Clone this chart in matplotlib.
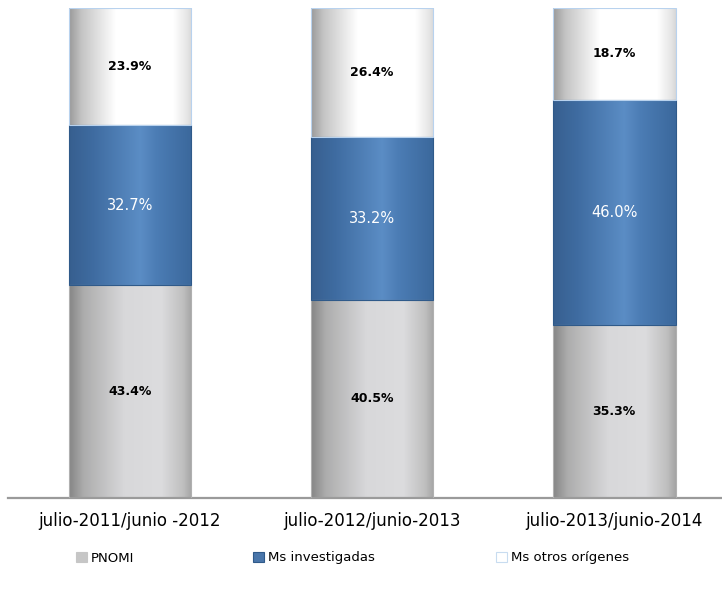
import numpy as np
import matplotlib
matplotlib.use("Agg")
import matplotlib.pyplot as plt
from matplotlib.colors import LinearSegmentedColormap
from matplotlib.patches import Patch

periods = ["julio-2011/junio -2012", "julio-2012/junio-2013", "julio-2013/junio-2014"]
series_names = ["PNOMI", "Ms investigadas", "Ms otros orígenes"]
pnomi = [43.4, 40.5, 35.3]
investigadas = [32.7, 33.2, 46.0]
otros = [23.9, 26.4, 18.7]

# horizontal shading for each stacked segment (cylinder look)
shades = {
    "PNOMI": [(0.0, "#858585"), (0.12, "#adadad"), (0.45, "#d8d8da"),
              (0.75, "#dcdcde"), (0.93, "#bfbfbf"), (1.0, "#a5a5a5")],
    "Ms investigadas": [(0.0, "#375f8f"), (0.2, "#3f6ca1"), (0.58, "#5b8dc5"),
                        (0.72, "#4b7cb4"), (1.0, "#3b689c")],
    "Ms otros orígenes": [(0.0, "#9a9a9a"), (0.1, "#c4c4c4"), (0.38, "#ffffff"),
                          (0.85, "#ffffff"), (0.96, "#e6e6e6"), (1.0, "#d8d8d8")],
}
edges = {"PNOMI": "#b0b0b0", "Ms investigadas": "#2f5a8a", "Ms otros orígenes": "#b8d2ee"}
label_colors = {"PNOMI": "black", "Ms investigadas": "white", "Ms otros orígenes": "black"}
label_weights = {"PNOMI": "bold", "Ms investigadas": "normal", "Ms otros orígenes": "bold"}
label_sizes = {"PNOMI": 9, "Ms investigadas": 10.5, "Ms otros orígenes": 9}
legend_faces = {"PNOMI": "#c6c6c6", "Ms investigadas": "#4a76aa", "Ms otros orígenes": "white"}
legend_edges = {"PNOMI": "#c6c6c6", "Ms investigadas": "#2f5a8a", "Ms otros orígenes": "#c8dcf0"}
legend_x = {"PNOMI": 76, "Ms investigadas": 253, "Ms otros orígenes": 496}

fig = plt.figure(figsize=(7.22, 6.05), dpi=100)
ax = fig.add_axes([8 / 722, 107 / 605, 714 / 722, 490 / 605])

x = np.arange(len(periods))
width = 0.508
bottom = np.zeros(len(periods))
for name, vals in zip(series_names, [pnomi, investigadas, otros]):
    cmap = LinearSegmentedColormap.from_list(name, shades[name])
    bars = ax.bar(x, vals, width, bottom=bottom, color="none",
                  edgecolor=edges[name], linewidth=0.8, zorder=3)
    grad = np.linspace(0, 1, 256).reshape(1, -1)
    for bar, v in zip(bars, vals):
        x0, y0 = bar.get_x(), bar.get_y()
        w, h = bar.get_width(), bar.get_height()
        im = ax.imshow(grad, cmap=cmap, aspect="auto", extent=(x0, x0 + w, y0, y0 + h),
                       zorder=2, interpolation="bilinear")
        im.set_clip_path(bar)
        ax.text(x0 + w / 2, y0 + h / 2, f"{v:.1f}%", ha="center", va="center",
                fontsize=label_sizes[name], fontweight=label_weights[name],
                color=label_colors[name], zorder=4)
    bottom += np.array(vals)

ax.set_xlim(-0.504, 2.446)
ax.set_ylim(0, 100)
ax.set_xticks(x)
ax.set_xticklabels(periods, fontsize=12)
ax.tick_params(axis="x", length=0, pad=10)
ax.set_yticks([])
for s in ["top", "right", "left"]:
    ax.spines[s].set_visible(False)
ax.spines["bottom"].set_color("#9a9a9a")
ax.spines["bottom"].set_linewidth(1.6)
ax.set_zorder(1)

for n in series_names:
    h = Patch(facecolor=legend_faces[n], edgecolor=legend_edges[n], linewidth=0.8, label=n)
    fig.legend(handles=[h], loc="center left",
               bbox_to_anchor=(legend_x[n] / 722, 1 - 558 / 605),
               frameon=False, fontsize=9.5, handlelength=0.8, handleheight=0.8,
               handletextpad=0.3, borderaxespad=0, borderpad=0)

fig.savefig("out.png", dpi=100)
